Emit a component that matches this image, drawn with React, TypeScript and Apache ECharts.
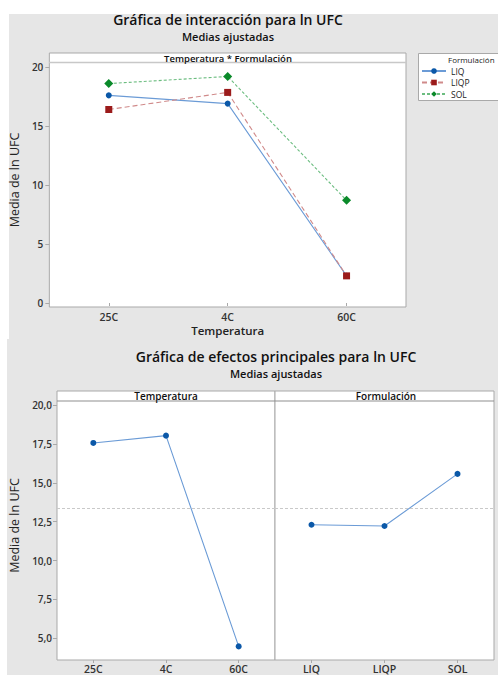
import React, { useEffect, useRef } from "react";
import * as echarts from "echarts";

const temperaturas = ["25C", "4C", "60C"];
const formulaciones = ["LIQ", "LIQP", "SOL"];
const liq = [17.6, 16.9, 2.3];
const liqp = [16.4, 17.85, 2.3];
const sol = [18.6, 19.2, 8.7];
const mediasTemp = [17.56, 18.03, 4.48];
const mediasForm = [12.3, 12.22, 15.57];
const mediaGlobal = 13.37;
const ticksTop = [0, 5, 10, 15, 20];
const ticksBottom = [5, 7.5, 10, 12.5, 15, 17.5, 20];

const FONT = "Open Sans";
const BORDER = "#a9a9a9";
const BLUE_L = "#6b9bd6";
const BLUE_M = "#0b58a8";
const RED_L = "#d08a8a";
const RED_M = "#9b1b1b";
const GREEN_L = "#6cbd80";
const GREEN_M = "#0a8a2a";

export default function App() {
  const ref = useRef<HTMLDivElement>(null);
  useEffect(() => {
    if (!ref.current) return;
    const chart = echarts.init(ref.current, undefined, { renderer: "svg" });
    const tickLabel = { fontFamily: FONT, fontSize: 10, fontWeight: 600, color: "#333" };
    const commonY = (idx: number) => ({
      type: "value",
      gridIndex: idx,
      splitLine: { show: false },
      axisLine: { show: false },
    });
    const option: any = {
      animation: false,
      grid: [
        { left: 49, top: 53, width: 357, height: 254, show: true, backgroundColor: "#fff", borderColor: BORDER, borderWidth: 1 },
        { left: 57, top: 391, width: 218, height: 269, show: true, backgroundColor: "#fff", borderColor: BORDER, borderWidth: 1 },
        { left: 275, top: 391, width: 219, height: 269, show: true, backgroundColor: "#fff", borderColor: BORDER, borderWidth: 1 },
      ],
      xAxis: [
        {
          type: "category", gridIndex: 0, data: temperaturas, boundaryGap: true,
          axisLine: { show: false },
          axisTick: { show: true, alignWithLabel: true, length: 3, lineStyle: { color: BORDER } },
          axisLabel: { ...tickLabel, fontSize: 10.5, margin: 4 },
          name: "Temperatura", nameLocation: "middle", nameGap: 17,
          nameTextStyle: { fontFamily: FONT, fontSize: 11.5, fontWeight: 600, color: "#222" },
        },
        {
          type: "category", gridIndex: 1, data: temperaturas, boundaryGap: true,
          axisLine: { show: false },
          axisTick: { show: true, alignWithLabel: true, length: 3, lineStyle: { color: BORDER } },
          axisLabel: { ...tickLabel, fontSize: 10.5, margin: 3 },
        },
        {
          type: "category", gridIndex: 2, data: formulaciones, boundaryGap: true,
          axisLine: { show: false },
          axisTick: { show: true, alignWithLabel: true, length: 3, lineStyle: { color: BORDER } },
          axisLabel: { ...tickLabel, fontSize: 10.5, margin: 3 },
        },
      ],
      yAxis: [
        {
          ...commonY(0), min: -0.339, max: 21.19,
          axisTick: { show: true, length: 4, customValues: ticksTop, lineStyle: { color: BORDER } },
          axisLabel: { ...tickLabel, margin: 6, customValues: ticksTop, formatter: (v: number) => String(v) },
          name: "Media de ln UFC", nameLocation: "middle", nameGap: 28,
          nameTextStyle: { fontFamily: FONT, fontSize: 12.5, color: "#222" },
        },
        {
          ...commonY(1), min: 3.605, max: 20.9,
          axisTick: { show: true, length: 4, customValues: ticksBottom, lineStyle: { color: BORDER } },
          axisLabel: { ...tickLabel, margin: 5, customValues: ticksBottom, formatter: (v: number) => v.toFixed(1).replace(".", ",") },
          name: "Media de ln UFC", nameLocation: "middle", nameGap: 36,
          nameTextStyle: { fontFamily: FONT, fontSize: 12.5, color: "#222" },
        },
        {
          ...commonY(2), min: 3.605, max: 20.9,
          axisTick: { show: false }, axisLabel: { show: false },
        },
      ],
      legend: {
        orient: "vertical", left: 421, top: 65.5, padding: 0,
        itemWidth: 24, itemHeight: 7, itemGap: 0.5,
        data: ["LIQ", "LIQP", "SOL"],
        textStyle: { fontFamily: FONT, fontSize: 8.5, lineHeight: 11, color: "#222" },
      },
      series: [
        {
          name: "LIQ", type: "line", xAxisIndex: 0, yAxisIndex: 0, data: liq,
          symbol: "circle", symbolSize: 6,
          lineStyle: { color: BLUE_L, width: 1.1 }, itemStyle: { color: BLUE_M },
        },
        {
          name: "LIQP", type: "line", xAxisIndex: 0, yAxisIndex: 0, data: liqp,
          symbol: "rect", symbolSize: 7,
          lineStyle: { color: RED_L, width: 1.1, type: [5, 3] }, itemStyle: { color: RED_M },
        },
        {
          name: "SOL", type: "line", xAxisIndex: 0, yAxisIndex: 0, data: sol,
          symbol: "diamond", symbolSize: 9,
          lineStyle: { color: GREEN_L, width: 1.1, type: [3, 2] }, itemStyle: { color: GREEN_M },
        },
        {
          name: "Temperatura", type: "line", xAxisIndex: 1, yAxisIndex: 1, data: mediasTemp,
          symbol: "circle", symbolSize: 6,
          lineStyle: { color: BLUE_L, width: 1.1 }, itemStyle: { color: BLUE_M },
          markLine: {
            silent: true, symbol: "none", label: { show: false },
            lineStyle: { color: "#c9c9c9", type: [3, 2], width: 1 },
            data: [{ yAxis: mediaGlobal }],
          },
        },
        {
          name: "Formulación", type: "line", xAxisIndex: 2, yAxisIndex: 2, data: mediasForm,
          symbol: "circle", symbolSize: 6,
          lineStyle: { color: BLUE_L, width: 1.1 }, itemStyle: { color: BLUE_M },
          markLine: {
            silent: true, symbol: "none", label: { show: false },
            lineStyle: { color: "#c9c9c9", type: [3, 2], width: 1 },
            data: [{ yAxis: mediaGlobal }],
          },
        },
      ],
      graphic: [
        { type: "rect", z: -10, shape: { x: 9, y: 14, width: 489, height: 325 }, style: { fill: "#e6e6e6" } },
        { type: "rect", z: -10, shape: { x: 7, y: 339, width: 491, height: 336 }, style: { fill: "#e6e6e6" } },
        { type: "text", z: 10, x: 228, y: 19, style: { text: "Gráfica de interacción para ln UFC", fontFamily: FONT, fontSize: 14, fontWeight: 600, fill: "#111", textAlign: "center", textVerticalAlign: "middle" } },
        { type: "text", z: 10, x: 228, y: 36, style: { text: "Medias ajustadas", fontFamily: FONT, fontSize: 11, fontWeight: 600, fill: "#111", textAlign: "center", textVerticalAlign: "middle" } },
        { type: "line", z: 10, shape: { x1: 49, y1: 62.5, x2: 406, y2: 62.5 }, style: { stroke: "#c8c8c8", lineWidth: 1.5 } },
        { type: "text", z: 10, x: 228, y: 58, style: { text: "Temperatura * Formulación", fontFamily: FONT, fontSize: 9.5, fontWeight: 600, fill: "#111", textAlign: "center", textVerticalAlign: "middle" } },
        { type: "rect", z: 1, shape: { x: 418.5, y: 53.5, width: 100, height: 47 }, style: { fill: "#fff", stroke: BORDER, lineWidth: 1 } },
        { type: "text", z: 10, x: 448, y: 59, style: { text: "Formulación", fontFamily: FONT, fontSize: 8, fill: "#222", textVerticalAlign: "middle" } },
        { type: "text", z: 10, x: 276, y: 356.5, style: { text: "Gráfica de efectos principales para ln UFC", fontFamily: FONT, fontSize: 14, fontWeight: 600, fill: "#111", textAlign: "center", textVerticalAlign: "middle" } },
        { type: "text", z: 10, x: 276, y: 373.5, style: { text: "Medias ajustadas", fontFamily: FONT, fontSize: 11, fontWeight: 600, fill: "#111", textAlign: "center", textVerticalAlign: "middle" } },
        { type: "line", z: 10, shape: { x1: 57, y1: 401, x2: 494, y2: 401 }, style: { stroke: "#8f8f8f", lineWidth: 1 } },
        { type: "text", z: 10, x: 166, y: 395.5, style: { text: "Temperatura", fontFamily: FONT, fontSize: 10, fontWeight: 600, fill: "#111", textAlign: "center", textVerticalAlign: "middle" } },
        { type: "text", z: 10, x: 386, y: 395.5, style: { text: "Formulación", fontFamily: FONT, fontSize: 10, fontWeight: 600, fill: "#111", textAlign: "center", textVerticalAlign: "middle" } },
      ],
    };
    chart.setOption(option);
    return () => chart.dispose();
  }, []);
  return <div ref={ref} style={{ position: "absolute", left: 0, top: 0, width: 498, height: 675 }} />;
}
